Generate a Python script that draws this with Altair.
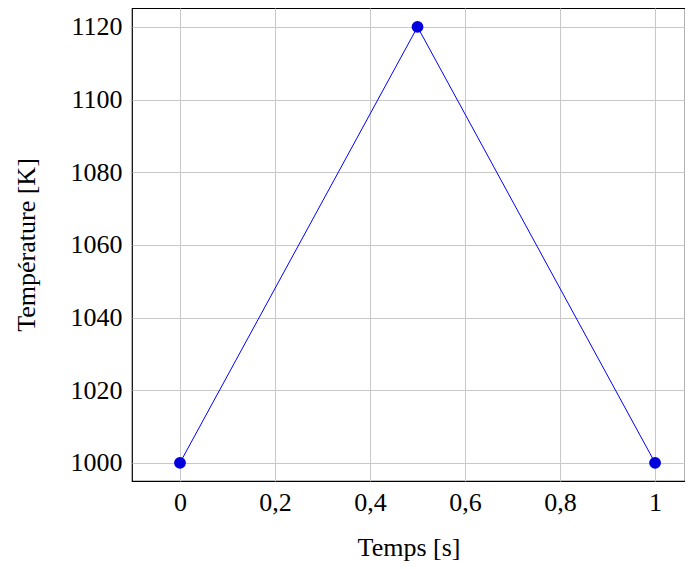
import altair as alt
import pandas as pd

temps = [0, 0.5, 1]
temperature = [1000, 1120, 1000]
x_ticks = [0, 0.2, 0.4, 0.6, 0.8, 1]
y_ticks = [1000, 1020, 1040, 1060, 1080, 1100, 1120]

df = pd.DataFrame({"t": temps, "T": temperature})

FONT = "Liberation Serif"

x = alt.X("t:Q", scale=alt.Scale(domain=[-0.101, 1.063], nice=False, zero=False),
          axis=alt.Axis(values=x_ticks, title="Temps [s]",
                        labelExpr="replace(format(datum.value, ''), '.', ',')",
                        grid=True, ticks=False, domain=False,
                        labelPadding=8, titlePadding=19))
y = alt.Y("T:Q", scale=alt.Scale(domain=[995, 1125.2], nice=False, zero=False),
          axis=alt.Axis(values=y_ticks, title="Température [K]", format="d",
                        grid=True, ticks=False, domain=False,
                        labelPadding=10, titlePadding=31))

line = alt.Chart(df).mark_line(color="#0000ff", strokeWidth=1).encode(x=x, y=y)
pts = alt.Chart(df).mark_point(filled=True, color="#0000dd", size=140, opacity=1).encode(x=x, y=y)

chart = (line + pts).properties(
    width=553, height=473, background="white",
    autosize=alt.AutoSizeParams(type="none"),
    padding={"left": 124, "top": 0, "right": 0, "bottom": 80},
).configure_view(stroke="black", strokeWidth=1.2).configure_axis(
    labelFont=FONT, titleFont=FONT, labelFontSize=26, titleFontSize=26,
    labelColor="black", titleColor="black", titleFontWeight="normal",
    gridColor="#c8c8c8", gridWidth=1, gridOpacity=1,
)

chart.save("out.html", embed_options={"renderer": "svg", "actions": False})
